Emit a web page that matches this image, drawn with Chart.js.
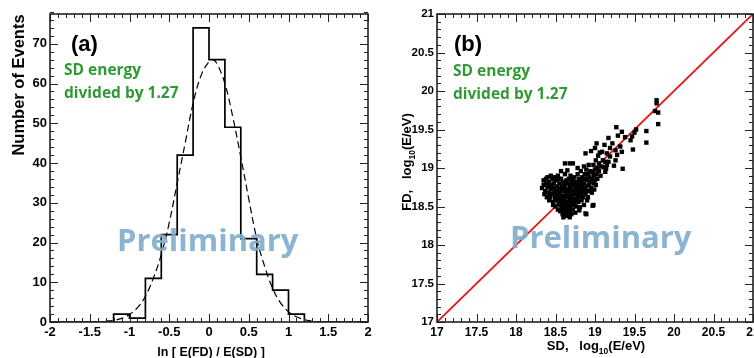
<!DOCTYPE html>
<html>
<head>
<meta charset="utf-8">
<script src="https://cdn.jsdelivr.net/npm/chart.js@4.4.1/dist/chart.umd.min.js"></script>
<style>
  html, body { margin: 0; padding: 0; background: #fff; overflow: hidden; width: 754px; height: 358px; }
  #wrapA { position: absolute; left: 0; top: 0; width: 380px; height: 358px; }
  #wrapB { position: absolute; left: 380px; top: 0; width: 400px; height: 358px; }
</style>
</head>
<body>
<div id="wrapA"><canvas id="histChart" width="380" height="358"></canvas></div>
<div id="wrapB"><canvas id="scatChart" width="400" height="358"></canvas></div>
<script>
// (a) histogram of ln[E(FD)/E(SD)], bins of 0.2 from -2 to 2
const binEdges = [-2, -1.8, -1.6, -1.4, -1.2, -1.0, -0.8, -0.6, -0.4, -0.2, 0, 0.2, 0.4, 0.6, 0.8, 1.0, 1.2, 1.4, 1.6, 1.8, 2];
const binCounts = [0, 0, 0, 0, 2, 1, 11, 22, 42, 74, 66, 49, 21, 12, 8, 2, 0, 0, 0, 0];

// dashed fit curve
const fitX = [-1.3, -1.2, -1.1, -1.0, -0.9, -0.8, -0.7, -0.6, -0.5, -0.4, -0.3, -0.2, -0.1, 0, 0.05, 0.1, 0.2, 0.3, 0.4, 0.5, 0.6, 0.7, 0.8, 0.9, 1.0, 1.1, 1.2, 1.3];
const fitY = [0.2, 0.4, 0.9, 1.9, 3.6, 6.5, 11, 17, 25, 35, 45, 55, 62, 65.5, 66, 65, 60, 51.5, 41.5, 31, 21, 14, 8.5, 4.8, 2.6, 1.3, 0.6, 0.2];

// (b) FD vs SD energies, [SD, FD] in log10(E/eV)
const scatterPoints = [
  [18.33,18.74],[18.35,18.84],[18.35,18.78],[18.37,18.70],[18.38,18.80],[18.36,18.66],[18.40,18.88],[18.40,18.75],
  [18.41,18.68],[18.42,18.82],[18.43,18.62],[18.44,18.90],[18.44,18.72],[18.45,18.78],[18.39,18.62],[18.42,18.58],
  [18.46,18.86],[18.46,18.66],[18.47,18.56],[18.48,18.74],[18.48,18.80],[18.49,18.62],[18.50,18.70],[18.50,18.50],
  [18.51,18.84],[18.51,18.58],[18.52,18.76],[18.52,18.66],[18.53,18.46],[18.53,18.90],[18.54,18.54],[18.54,18.72],
  [18.55,18.62],[18.55,18.80],[18.47,18.52],[18.49,18.88],[18.53,18.68],[18.50,18.60],
  [18.56,18.44],[18.56,18.70],[18.57,18.58],[18.57,18.86],[18.58,18.48],[18.58,18.76],[18.59,18.64],[18.59,18.40],
  [18.60,18.52],[18.60,18.82],[18.60,18.70],[18.61,18.44],[18.61,18.60],[18.62,18.92],[18.62,18.38],[18.62,18.74],
  [18.63,18.50],[18.63,18.66],[18.64,18.56],[18.64,18.84],[18.65,18.42],[18.65,18.72],[18.62,19.06],[18.58,18.62],
  [18.56,18.52],[18.64,18.46],[18.60,18.36],[18.57,18.96],
  [18.66,18.62],[18.66,18.38],[18.66,18.80],[18.67,18.50],[18.67,18.68],[18.68,18.44],[18.68,19.06],[18.68,18.58],
  [18.69,18.74],[18.69,18.90],[18.70,18.40],[18.70,18.64],[18.71,18.52],[18.71,18.82],[18.72,18.70],[18.72,19.06],
  [18.72,18.46],[18.73,18.60],[18.73,18.78],[18.74,18.54],[18.74,18.88],[18.75,18.66],[18.75,18.42],[18.65,18.97],
  [18.70,18.56],[18.68,18.36],
  [18.76,18.74],[18.76,18.50],[18.77,18.82],[18.77,18.60],[18.78,18.68],[18.78,18.92],[18.79,18.56],[18.79,18.76],
  [18.80,18.86],[18.80,18.64],[18.81,18.49],[18.81,18.72],[18.82,18.80],[18.82,18.96],[18.83,18.66],[18.83,18.58],
  [18.84,18.76],[18.84,18.88],[18.85,18.70],[18.85,18.62],[18.78,19.00],[18.80,18.45],[18.76,18.70],[18.83,18.84],
  [18.86,18.52],[18.86,18.80],[18.86,19.02],[18.87,18.72],[18.87,18.92],[18.88,18.41],[18.88,18.66],[18.88,18.86],
  [18.89,18.76],[18.89,18.98],[18.90,18.70],[18.90,18.84],[18.91,18.62],[18.91,18.92],[18.92,18.78],[18.92,19.04],
  [18.93,18.70],[18.93,18.88],[18.94,18.82],[18.94,18.96],[18.95,18.74],[18.95,19.22],[18.88,19.19],[18.89,18.40],
  [18.90,18.58],
  [18.96,18.86],[18.96,18.68],[18.97,18.51],[18.97,18.94],[18.98,18.80],[18.98,19.04],[18.99,18.72],[18.99,18.90],
  [19.00,18.98],[19.00,18.84],[19.01,19.10],[19.01,18.78],[19.02,19.32],[19.02,18.92],[19.03,19.00],[19.03,18.86],
  [19.04,19.16],[19.05,18.96],[19.05,19.06],[18.98,18.52],[19.00,19.26],
  [19.06,19.20],[19.07,18.90],[19.08,19.02],[19.09,19.21],[19.10,19.10],[19.11,19.01],[19.12,19.30],[19.13,18.95],
  [19.13,19.08],[19.15,19.19],[19.15,19.04],[19.17,19.39],[19.17,19.08],[19.19,19.15],[19.19,19.26],[19.14,18.99],
  [19.22,19.32],[19.24,19.03],[19.26,19.10],[19.26,19.23],[19.27,19.53],[19.28,19.17],[19.29,19.42],[19.32,19.28],
  [19.34,19.21],[19.34,19.47],[19.35,18.99],[19.38,19.40],
  [19.45,19.36],[19.47,19.41],[19.48,19.24],[19.50,19.46],[19.52,19.50],[19.65,19.48],[19.65,19.33],[19.76,19.74],
  [19.78,19.88],[19.80,19.72],[19.80,19.57],[19.78,19.84],
  [18.52,18.60],[18.55,18.67],[18.57,18.73],[18.59,18.55],[18.61,18.78],[18.62,18.62],[18.63,18.80],[18.64,18.68],
  [18.66,18.54],[18.66,18.70],[18.67,18.86],[18.68,18.76],[18.69,18.48],[18.69,18.62],[18.70,18.78],[18.71,18.58],
  [18.72,18.86],[18.73,18.66],[18.74,18.72],[18.75,18.58],[18.76,18.80],[18.77,18.66],[18.78,18.74],[18.79,18.62],
  [18.80,18.70],[18.81,18.84],[18.82,18.68],[18.58,18.44],[18.60,18.46],[18.63,18.42],[18.54,18.86],[18.49,18.68],
  [18.46,18.74],[18.43,18.66],[18.41,18.78],[18.38,18.86]
];

// diagonal FD = SD
const diagX = [17, 21];
const diagY = [17, 21];

const sansBold = "'Liberation Sans', Arial, sans-serif";
const green = '#2f9a34';
const prelimBlue = 'rgba(128,172,204,0.9)';
const fmt = v => String(+(+v).toFixed(2));

// ROOT style frame: box plus inward major/minor ticks on all sides
const frameTicks = {
  id: 'frameTicks',
  afterDatasetsDraw(chart, args, opts) {
    const { ctx, chartArea: a, scales: { x, y } } = chart;
    ctx.save();
    ctx.strokeStyle = '#222';
    ctx.lineWidth = 1;
    ctx.beginPath();
    let n = Math.round((x.max - x.min) / opts.xMinor);
    for (let i = 0; i <= n; i++) {
      const v = x.min + i * opts.xMinor;
      const px = Math.round(x.getPixelForValue(v)) + 0.5;
      const r = v / opts.xMajor;
      const len = Math.abs(r - Math.round(r)) < 1e-6 ? 8 : 4;
      ctx.moveTo(px, a.bottom); ctx.lineTo(px, a.bottom - len);
      ctx.moveTo(px, a.top); ctx.lineTo(px, a.top + len);
    }
    n = Math.round((y.max - y.min) / opts.yMinor);
    for (let i = 0; i <= n; i++) {
      const v = y.min + i * opts.yMinor;
      const py = Math.round(y.getPixelForValue(v)) + 0.5;
      const r = v / opts.yMajor;
      const len = Math.abs(r - Math.round(r)) < 1e-6 ? 8 : 4;
      ctx.moveTo(a.left, py); ctx.lineTo(a.left + len, py);
      ctx.moveTo(a.right, py); ctx.lineTo(a.right - len, py);
    }
    ctx.stroke();
    ctx.lineWidth = 1.6;
    ctx.strokeRect(a.left, a.top, a.right - a.left, a.bottom - a.top);
    ctx.restore();
  }
};

// free text: panel labels, notes, axis titles (with subscript pieces)
const textLayer = {
  id: 'textLayer',
  afterDraw(chart, args, opts) {
    const ctx = chart.ctx;
    ctx.save();
    opts.items.forEach(t => {
      ctx.save();
      ctx.translate(t.x, t.y);
      if (t.rotate) ctx.rotate(t.rotate);
      ctx.fillStyle = t.color || '#000';
      ctx.textBaseline = 'alphabetic';
      const parts = t.parts || [{ text: t.text, font: t.font }];
      let total = 0;
      parts.forEach(p => { ctx.font = p.font; total += ctx.measureText(p.text).width; });
      let cx = t.align === 'center' ? -total / 2 : 0;
      parts.forEach(p => {
        ctx.font = p.font;
        ctx.fillText(p.text, cx, p.dy || 0);
        cx += ctx.measureText(p.text).width;
      });
      ctx.restore();
    });
    ctx.restore();
  }
};

const histPoints = binCounts.map((c, i) => ({ x: binEdges[i], y: c }));
histPoints.push({ x: binEdges[binEdges.length - 1], y: 0 });
const fitPoints = fitX.map((v, i) => ({ x: v, y: fitY[i] }));

const bold = (s, fam) => 'bold ' + s + 'px ' + (fam || sansBold);
const noteFont = bold(15.5, "'Open Sans', sans-serif");
const prelimFont = bold(31, "'Open Sans', sans-serif");

new Chart(document.getElementById('histChart'), {
  type: 'line',
  data: {
    datasets: [
      {
        data: histPoints,
        stepped: 'before',
        borderColor: '#000',
        borderWidth: 1.7,
        pointRadius: 0,
        fill: false
      },
      {
        data: fitPoints,
        borderColor: '#000',
        borderWidth: 1.2,
        borderDash: [7, 4],
        tension: 0.4,
        pointRadius: 0,
        fill: false
      }
    ]
  },
  options: {
    responsive: false,
    devicePixelRatio: 1,
    animation: false,
    events: [],
    layout: { padding: { left: 0, right: 12, top: 14, bottom: 0 } },
    plugins: {
      legend: { display: false },
      tooltip: { enabled: false },
      frameTicks: { xMinor: 0.1, xMajor: 0.5, yMinor: 2, yMajor: 10 },
      textLayer: {
        items: [
          { text: 'Preliminary', x: 117, y: 251, font: prelimFont, color: prelimBlue },
          { text: '(a)', x: 71, y: 51, font: bold(22) },
          { text: 'SD energy', x: 64, y: 75, font: noteFont, color: green },
          { text: 'divided by 1.27', x: 64, y: 98, font: noteFont, color: green },
          { text: 'ln [ E(FD) / E(SD) ]', x: 211, y: 356, align: 'center', font: bold(12.5) },
          { text: 'Number of Events', x: 24, y: 85, rotate: -Math.PI / 2, align: 'center', font: bold(16.5) }
        ]
      }
    },
    scales: {
      x: {
        type: 'linear',
        min: -2, max: 2,
        afterFit: s => { s.height = 36; },
        grid: { display: false, drawTicks: false },
        border: { display: false },
        ticks: { stepSize: 0.5, includeBounds: false, color: '#000', font: { family: sansBold, weight: 'bold', size: 13 }, padding: 3, maxRotation: 0, callback: fmt }
      },
      y: {
        type: 'linear',
        min: 0, max: 77.5,
        afterFit: s => { s.width = 50; },
        grid: { display: false, drawTicks: false },
        border: { display: false },
        ticks: { stepSize: 10, includeBounds: false, color: '#000', font: { family: sansBold, weight: 'bold', size: 13 }, padding: 3, callback: fmt }
      }
    }
  },
  plugins: [frameTicks, textLayer]
});

const axFont = bold(13);
const subFont = bold(8.5);

new Chart(document.getElementById('scatChart'), {
  type: 'scatter',
  data: {
    datasets: [
      {
        data: scatterPoints.map(p => ({ x: p[0], y: p[1] })),
        pointStyle: 'rect',
        pointRadius: 3.1,
        backgroundColor: '#000',
        borderColor: '#000',
        borderWidth: 0
      },
      {
        type: 'line',
        data: diagX.map((v, i) => ({ x: v, y: diagY[i] })),
        borderColor: '#e41a1a',
        borderWidth: 1.9,
        pointRadius: 0,
        fill: false
      }
    ]
  },
  options: {
    responsive: false,
    devicePixelRatio: 1,
    animation: false,
    events: [],
    layout: { padding: { left: 0, right: 27, top: 14, bottom: 0 } },
    plugins: {
      legend: { display: false },
      tooltip: { enabled: false },
      frameTicks: { xMinor: 0.1, xMajor: 0.5, yMinor: 0.1, yMajor: 0.5 },
      textLayer: {
        items: [
          { text: 'Preliminary', x: 130, y: 248, font: prelimFont, color: prelimBlue },
          { text: '(b)', x: 74, y: 51, font: bold(22) },
          { text: 'SD energy', x: 73, y: 76, font: noteFont, color: green },
          { text: 'divided by 1.27', x: 73, y: 99, font: noteFont, color: green },
          { x: 216, y: 350, align: 'center', parts: [
            { text: 'SD,   log', font: axFont },
            { text: '10', font: subFont, dy: 4 },
            { text: '(E/eV)', font: axFont }
          ] },
          { x: 31, y: 162, rotate: -Math.PI / 2, align: 'center', parts: [
            { text: 'FD,   log', font: axFont },
            { text: '10', font: subFont, dy: 4 },
            { text: '(E/eV)', font: axFont }
          ] }
        ]
      }
    },
    scales: {
      x: {
        type: 'linear',
        min: 17, max: 21,
        afterFit: s => { s.height = 36; },
        grid: { display: false, drawTicks: false },
        border: { display: false },
        ticks: { stepSize: 0.5, includeBounds: false, color: '#000', font: { family: sansBold, weight: 'bold', size: 12 }, padding: 3, maxRotation: 0, callback: fmt }
      },
      y: {
        type: 'linear',
        min: 17, max: 21,
        afterFit: s => { s.width = 57; },
        grid: { display: false, drawTicks: false },
        border: { display: false },
        ticks: { stepSize: 0.5, includeBounds: false, color: '#000', font: { family: sansBold, weight: 'bold', size: 11.5 }, padding: 3, callback: fmt }
      }
    }
  },
  plugins: [frameTicks, textLayer]
});
</script>
</body>
</html>
